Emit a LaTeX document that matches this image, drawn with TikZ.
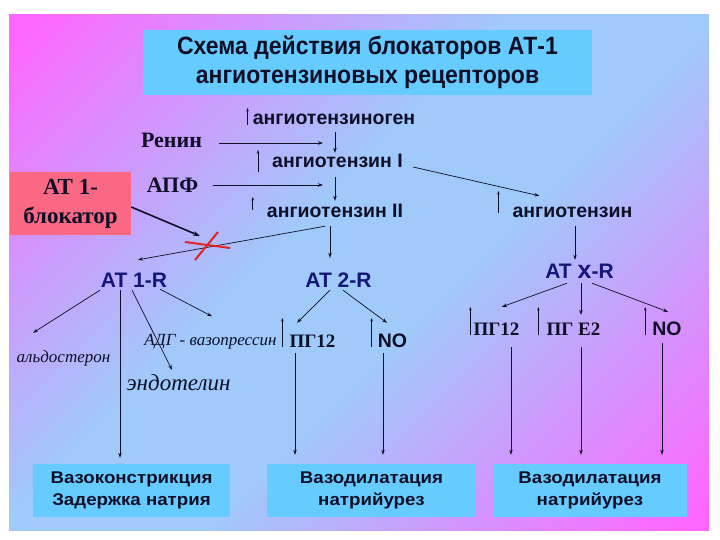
\documentclass[tikz,border=0pt]{standalone}
\usepackage{fontspec}
\setmainfont{Liberation Serif}
\newfontfamily\labelsans{Liberation Sans}
\newfontfamily\widesans{Liberation Sans}[FakeStretch=1.1]
\newfontfamily\titlesans{Liberation Sans}[FakeStretch=0.92]
\usetikzlibrary{arrows.meta}

\definecolor{bgpink}{RGB}{255,102,255}
\definecolor{bgblue}{RGB}{160,202,250}
\definecolor{boxblue}{RGB}{102,204,255}
\definecolor{blockred}{RGB}{250,104,132}
\definecolor{navy}{RGB}{22,22,120}
\definecolor{inkcol}{RGB}{15,15,40}
\definecolor{crossred}{RGB}{225,35,35}

\pgfdeclarehorizontalshading{slidebg}{100bp}{color(0bp)=(bgpink); color(16bp)=(bgpink); color(44bp)=(bgblue); color(56bp)=(bgblue); color(84bp)=(bgpink); color(100bp)=(bgpink)}

\begin{document}
\begin{tikzpicture}[x=1pt, y=-1pt,
    arr/.style={-{Stealth[length=5pt,width=3.5pt]}, inkcol, line width=0.7pt},
    tick/.style={-{Stealth[length=3.5pt,width=2.5pt]}, inkcol, line width=0.6pt},
    blockarr/.style={-{Stealth[length=7pt,width=5pt]}, inkcol, line width=1.6pt},
    cross/.style={crossred, line width=2pt},
    sanslbl/.style={font=\labelsans\bfseries\fontsize{19.5}{23}\selectfont, text=inkcol, inner sep=0pt, text height=14pt, text depth=3pt},
    serlbl/.style={font=\bfseries\fontsize{22}{26}\selectfont, text=inkcol, inner sep=0pt, text height=15pt, text depth=1pt},
    pglbl/.style={font=\bfseries\fontsize{19}{22}\selectfont, text=inkcol, inner sep=0pt, text height=13pt, text depth=2pt},
    itlbl/.style={font=\itshape\fontsize{17}{20}\selectfont, text=inkcol, inner sep=0pt, text height=12pt, text depth=3pt},
    atlbl/.style={font=\labelsans\bfseries\fontsize{21}{24}\selectfont, text=navy, inner sep=0pt, text height=15pt, text depth=2pt},
    titlebox/.style={fill=boxblue, minimum width=449, minimum height=65, align=center, text=inkcol,
        font=\titlesans\bfseries\fontsize{25}{29}\selectfont},
    resbox/.style={fill=boxblue, minimum height=53, align=center, text=inkcol,
        font=\widesans\bfseries\fontsize{17}{22.7}\selectfont},
    blockbox/.style={fill=blockred, minimum width=121, minimum height=63, align=center, text=inkcol,
        font=\bfseries\fontsize{23}{29}\selectfont}]

    % Slide
    \fill[white] (0,0) rectangle (720,540);
    \shade[shading=slidebg, shading angle=-45] (9,15) rectangle (709,530);
    \useasboundingbox (0,0) rectangle (720,540);

    % Nodes
    \node[titlebox] (title) at (367.5,62.5) {Схема действия блокаторов АТ-1\\ангиотензиновых рецепторов};
    \node[sanslbl] (ang0) at (334,119.5) {ангиотензиноген};
    \node[serlbl] (renin) at (171.5,141) {Ренин};
    \node[sanslbl] (ang1) at (337.5,162.5) {ангиотензин I};
    \node[serlbl] (apf) at (172.5,186) {АПФ};
    \node[sanslbl] (ang2) at (335,212.5) {ангиотензин II};
    \node[sanslbl] (angx) at (572.5,212.5) {ангиотензин};
    \node[blockbox] (block) at (70.5,203.5) {АТ 1-\\блокатор};
    \node[atlbl] (at1) at (134,280.5) {AT 1-R};
    \node[atlbl] (at2) at (338.5,280.5) {AT 2-R};
    \node[atlbl] (atx) at (579.5,271.5) {AT {\fontsize{25}{25}\selectfont x}-R};
    \node[itlbl] (ald) at (63.5,357.5) {альдостерон};
    \node[itlbl] (adg) at (210.5,340.5) {АДГ - вазопрессин};
    \node[itlbl, font=\itshape\fontsize{23}{26}\selectfont, text height=14pt] (endo) at (178.5,384.5) {эндотелин};
    \node[pglbl] (pg2) at (312.5,341.5) {ПГ12};
    \node[sanslbl] (no2) at (392.5,341.5) {NO};
    \node[pglbl] (pgx) at (496.5,329.5) {ПГ12};
    \node[pglbl] (pgex) at (573.5,329.5) {ПГ Е2};
    \node[sanslbl] (nox) at (667,329.5) {NO};
    \node[resbox, minimum width=197] (res1) at (131.5,490.5) {Вазоконстрикция\\Задержка натрия};
    \node[resbox, minimum width=209] (res2) at (371.5,490.5) {Вазодилатация\\натрийурез};
    \node[resbox, minimum width=194] (res3) at (590,490.5) {Вазодилатация\\натрийурез};
    \coordinate (renin-end) at (323,143);
    \coordinate (apf-end) at (323,185);
    \coordinate (cut) at (200,236);

    % Small arrows beside the labels
    \draw[tick] (ang0.west) ++(-5,5.5) -- ++(0,-17);
    \draw[tick] (ang1.west) ++(-14,9.5) -- ++(0,-22);
    \draw[tick] (ang2.west) ++(-14,-2.5) -- ++(0,-13);
    \draw[tick] (angx.west) ++(-14,0.5) -- ++(0,-22);
    \draw[tick] (pg2.west) ++(-7,5.5) -- ++(0,-29);
    \draw[tick] (no2.west) ++(-6,5.5) -- ++(0,-29);
    \draw[tick] (pgx.west) ++(-3,5.5) -- ++(0,-28);
    \draw[tick] (pgex.west) ++(-8,5.5) -- ++(0,-28);
    \draw[tick] (nox.west) ++(-7,5.5) -- ++(0,-28);

    % Arrows
    \draw[arr] ([xshift=17pt,yshift=-2pt]renin.east) -- (renin-end);
    \draw[arr] ([xshift=15pt,yshift=1pt]apf.east) -- (apf-end);
    \draw[arr] ([xshift=1pt,yshift=-4pt]ang0.south) -- ([xshift=-2.5pt,yshift=1pt]ang1.north);
    \draw[arr] ([xshift=-2.5pt,yshift=-6pt]ang1.south) -- ([yshift=3pt]ang2.north);
    \draw[arr] ([xshift=10pt,yshift=-4.5pt]ang1.east) -- ([xshift=27pt,yshift=8pt]angx.north west);
    \draw[arr] ([xshift=-10pt,yshift=-5pt]ang2.south) -- ([xshift=4pt,yshift=12pt]at1.north);
    \draw[arr] ([xshift=-5pt,yshift=-5pt]ang2.south) -- ([xshift=-8.5pt,yshift=14pt]at2.north);
    \draw[arr] ([xshift=2.5pt,yshift=-5pt]angx.south) -- ([xshift=-4.5pt,yshift=3pt]atx.north);
    \draw[blockarr] ([yshift=-3.5pt]block.east) -- (cut);
    \draw[cross] (cut) ++(-15,6) -- ++(45,6);
    \draw[cross] (cut) ++(18,-4) -- ++(-23,28);

    \draw[arr] ([xshift=-34pt,yshift=-1pt]at1.south) -- ([xshift=-30.5pt,yshift=17pt]ald.north);
    \draw[arr] ([xshift=-14pt,yshift=-1pt]at1.south) -- ([xshift=-11.5pt,yshift=6pt]res1.north);
    \draw[arr] ([xshift=-2pt,yshift=-1pt]at1.south) -- ([xshift=-6.5pt,yshift=6pt]endo.north);
    \draw[arr] ([xshift=26pt]at1.south) -- ([xshift=1.5pt,yshift=16.5pt]adg.north);
    \draw[arr] ([xshift=-8.5pt,yshift=-1pt]at2.south) -- ([xshift=-15.5pt,yshift=11pt]pg2.north);
    \draw[arr] ([xshift=4.5pt,yshift=-1pt]at2.south) -- ([xshift=-5.5pt,yshift=10pt]no2.north);
    \draw[arr] ([xshift=-17.5pt,yshift=-4pt]pg2.south) -- ([xshift=-76.5pt,yshift=9pt]res2.north);
    \draw[arr] ([xshift=-9.5pt,yshift=-3pt]no2.south) -- ([xshift=11.5pt,yshift=9pt]res2.north);
    \draw[arr] ([xshift=-12.5pt,yshift=-3pt]atx.south) -- ([xshift=5.5pt,yshift=15pt]pgx.north);
    \draw[arr] ([xshift=1.5pt,yshift=-3pt]atx.south) -- ([xshift=7.5pt,yshift=7pt]pgex.north);
    \draw[arr] ([xshift=12.5pt,yshift=-3pt]atx.south) -- ([xshift=1pt,yshift=9pt]nox.north);
    \draw[arr] ([xshift=14.5pt,yshift=-10pt]pgx.south) -- ([xshift=-79pt,yshift=9pt]res3.north);
    \draw[arr] ([xshift=7.5pt,yshift=-10pt]pgex.south) -- ([xshift=-9pt,yshift=9pt]res3.north);
    \draw[arr] ([xshift=-5pt,yshift=-5pt]nox.south) -- ([xshift=72pt,yshift=9pt]res3.north);
\end{tikzpicture}
\end{document}
